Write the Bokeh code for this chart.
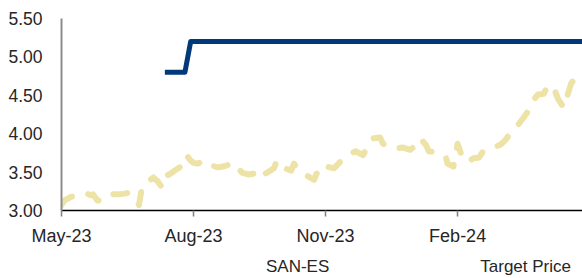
from datetime import datetime
from bokeh.plotting import figure
from bokeh.layouts import column
from bokeh.models import (ColumnDataSource, Range1d, FixedTicker, DatetimeTickFormatter,
                          NumeralTickFormatter, Legend, LegendItem)
from bokeh.embed import file_html
from bokeh.resources import INLINE

# ---- data ----
price_dates = [
    "2023-05-01", "2023-05-03", "2023-05-08", "2023-05-13", "2023-05-18", "2023-05-21",
    "2023-05-23", "2023-05-26", "2023-05-30", "2023-06-03", "2023-06-06", "2023-06-10",
    "2023-06-14", "2023-06-17", "2023-06-20", "2023-06-22", "2023-06-24", "2023-06-26",
    "2023-06-29", "2023-07-02", "2023-07-04", "2023-07-07", "2023-07-10", "2023-07-12",
    "2023-07-15", "2023-07-19", "2023-07-23", "2023-07-25", "2023-07-27", "2023-07-30",
    "2023-08-01", "2023-08-04", "2023-08-06", "2023-08-09", "2023-08-13", "2023-08-18",
    "2023-08-23", "2023-08-29", "2023-09-01", "2023-09-04", "2023-09-08", "2023-09-12",
    "2023-09-15", "2023-09-18", "2023-09-22", "2023-09-26", "2023-09-28", "2023-10-01",
    "2023-10-05", "2023-10-08", "2023-10-10", "2023-10-12", "2023-10-17", "2023-10-21",
    "2023-10-24", "2023-10-26", "2023-10-29", "2023-10-31", "2023-11-02", "2023-11-07",
    "2023-11-12", "2023-11-16", "2023-11-22", "2023-11-27", "2023-12-01", "2023-12-04",
    "2023-12-09", "2023-12-11", "2023-12-15", "2023-12-20", "2023-12-25", "2023-12-30",
    "2024-01-03", "2024-01-06", "2024-01-10", "2024-01-12", "2024-01-17", "2024-01-21",
    "2024-01-24", "2024-01-25", "2024-01-29", "2024-02-01", "2024-02-03", "2024-02-04",
    "2024-02-08", "2024-02-12", "2024-02-16", "2024-02-19", "2024-02-24", "2024-03-02",
    "2024-03-05", "2024-03-08", "2024-03-12", "2024-03-14", "2024-03-18", "2024-03-21",
    "2024-03-24", "2024-03-28", "2024-04-01", "2024-04-04", "2024-04-08", "2024-04-11",
    "2024-04-15", "2024-04-18", "2024-04-20", "2024-04-23", "2024-04-28",
]
price_values = [
    3.07, 3.13, 3.18, 3.20, 3.23, 3.20,
    3.21, 3.13, 3.13, 3.20, 3.21, 3.21,
    3.22, 3.23, 3.17, 3.13, 3.07, 3.30,
    3.33, 3.40, 3.43, 3.38, 3.30, 3.44,
    3.47, 3.52, 3.57, 3.69, 3.72, 3.65,
    3.62, 3.61, 3.63, 3.65, 3.59, 3.56,
    3.58, 3.62, 3.55, 3.49, 3.47, 3.48,
    3.53, 3.46, 3.50, 3.55, 3.65, 3.59,
    3.54, 3.52, 3.61, 3.55, 3.48, 3.43,
    3.40, 3.49, 3.47, 3.49, 3.57, 3.55,
    3.65, 3.72, 3.77, 3.72, 3.85, 3.94,
    3.95, 3.87, 3.82, 3.81, 3.82, 3.79,
    3.85, 3.94, 3.85, 3.77, 3.76, 3.74,
    3.68, 3.61, 3.57, 3.87, 3.76, 3.69,
    3.63, 3.68, 3.69, 3.78, 3.80, 3.86,
    3.91, 3.99, 4.05, 4.11, 4.21, 4.29,
    4.42, 4.51, 4.52, 4.63, 4.60, 4.45,
    4.34, 4.53, 4.65, 4.73, 4.85,
]
target_dates = ["2023-07-12", "2023-07-26", "2023-07-30", "2024-04-28"]
target_values = [4.80, 4.80, 5.20, 5.20]

x_tick_dates = ["2023-05-01", "2023-08-01", "2023-11-01", "2024-02-01"]
y_ticks = [3.00, 3.50, 4.00, 4.50, 5.00, 5.50]
series_names = ["SAN-ES", "Target Price"]

# ---- styles ----
FONT = "Liberation Sans"
TXT = "#262626"
PRICE_STYLE = dict(line_color="#EEE3A6", line_width=6, line_dash="14 17",
                   line_cap="round", line_join="round")
TARGET_STYLE = dict(line_color="#003A7A", line_width=5, line_join="round")

# ---- main chart ----
to_dt = lambda s: datetime.strptime(s, "%Y-%m-%d")
price_src = ColumnDataSource(dict(x=[to_dt(d) for d in price_dates], y=price_values))
target_src = ColumnDataSource(dict(x=[to_dt(d) for d in target_dates], y=target_values))

p = figure(width=582, height=248, x_axis_type="datetime", output_backend="svg",
           toolbar_location=None, min_border_left=61, min_border_right=0,
           min_border_top=18, min_border_bottom=38)
p.x_range = Range1d(to_dt(price_dates[0]), to_dt(price_dates[-1]))
p.y_range = Range1d(y_ticks[0], y_ticks[-1])
p.outline_line_color = None
p.grid.visible = False
p.background_fill_color = "white"
p.border_fill_color = "white"

p.line("x", "y", source=price_src, **PRICE_STYLE)
p.line("x", "y", source=target_src, **TARGET_STYLE)

xt = [to_dt(d).timestamp() * 1000 for d in x_tick_dates]
p.xaxis.ticker = FixedTicker(ticks=xt)
p.xaxis.formatter = DatetimeTickFormatter(days="%b-%y", months="%b-%y", years="%b-%y")
p.xaxis.axis_line_color = "black"
p.xaxis.axis_line_width = 1.5
p.xaxis.major_tick_line_color = "#7f7f7f"
p.xaxis.major_tick_line_width = 1.5
p.xaxis.major_tick_out = 6
p.xaxis.major_tick_in = 0
p.xaxis.minor_tick_line_color = None
p.xaxis.major_label_standoff = 9
p.xaxis.major_label_text_font = FONT
p.xaxis.major_label_text_font_size = "18px"
p.xaxis.major_label_text_color = TXT

p.yaxis.ticker = FixedTicker(ticks=y_ticks)
p.yaxis.formatter = NumeralTickFormatter(format="0.00")
p.yaxis.axis_line_color = "#8c8c8c"
p.yaxis.axis_line_width = 2
p.yaxis.major_tick_line_color = None
p.yaxis.minor_tick_line_color = None
p.yaxis.major_tick_out = 0
p.yaxis.major_tick_in = 0
p.yaxis.major_label_standoff = 19
p.yaxis.major_label_text_font = FONT
p.yaxis.major_label_text_font_size = "17.5px"
p.yaxis.major_label_text_color = TXT

# ---- legend strip (separate figure so the legend is not clipped) ----
lg = figure(width=582, height=30, output_backend="svg", toolbar_location=None,
            x_range=Range1d(0, 1), y_range=Range1d(0, 1),
            x_axis_location=None, y_axis_location=None, min_border=0)
lg.outline_line_color = None
lg.grid.visible = False
lg.background_fill_color = "white"
lg.border_fill_color = "white"
lr_price = lg.line(x=[], y=[], **PRICE_STYLE)
lr_target = lg.line(x=[], y=[], **TARGET_STYLE)

legend = Legend(items=[LegendItem(label=series_names[0], renderers=[lr_price]),
                       LegendItem(label=series_names[1], renderers=[lr_target])],
                orientation="horizontal", location=(131, 1),
                label_text_font=FONT, label_text_font_size="17px", label_text_color=TXT,
                glyph_width=62, glyph_height=16, label_height=16, label_standoff=12,
                spacing=77, padding=0, margin=0, border_line_color=None,
                background_fill_alpha=0)
lg.add_layout(legend, "center")

layout = column(p, lg, spacing=0)
open("out.html", "w").write(file_html(layout, INLINE))
